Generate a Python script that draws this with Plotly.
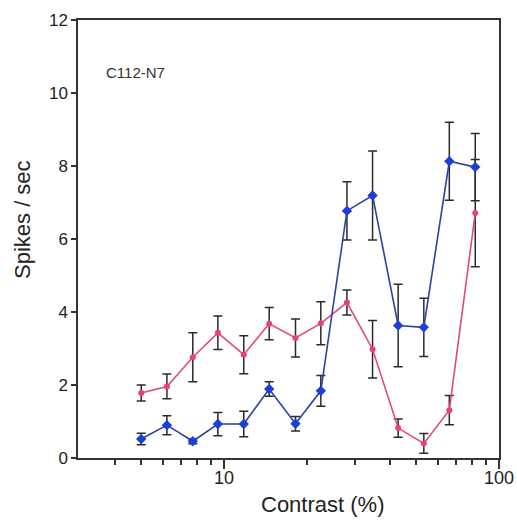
import plotly.graph_objects as go

contrast = [5.0, 6.2, 7.7, 9.5, 11.8, 14.6, 18.2, 22.5, 28.0, 34.7, 43.0, 53.3, 66.0, 82.0]

pink_rate = [1.78, 1.96, 2.76, 3.43, 2.83, 3.68, 3.29, 3.69, 4.26, 2.98, 0.82, 0.40, 1.31, 6.71]
pink_err = [0.22, 0.34, 0.67, 0.46, 0.52, 0.44, 0.52, 0.59, 0.34, 0.79, 0.25, 0.27, 0.40, 1.47]

blue_rate = [0.52, 0.90, 0.46, 0.93, 0.93, 1.89, 0.94, 1.84, 6.77, 7.19, 3.63, 3.58, 8.13, 7.97]
blue_err = [0.16, 0.26, 0.07, 0.32, 0.35, 0.20, 0.20, 0.42, 0.80, 1.22, 1.13, 0.80, 1.07, 0.92]

x_major = [10, 100]
x_major_text = ["10", "100"]
x_minor = [4, 5, 6, 7, 8, 9, 20, 30, 40, 50, 60, 70, 80, 90]
y_ticks = [0, 2, 4, 6, 8, 10, 12]

FONT = "Liberation Sans, Arial, Helvetica, sans-serif"
AX = "#333333"
ERR = "#2a2a2a"

fig = go.Figure()
fig.add_trace(go.Scatter(
    x=contrast, y=pink_rate, mode="lines+markers",
    line=dict(color="#e2497a", width=1.6),
    marker=dict(color="#e8407a", size=6, symbol="circle"),
    error_y=dict(type="data", array=pink_err, visible=True, color=ERR, thickness=1.5, width=4.5),
    showlegend=False,
))
fig.add_trace(go.Scatter(
    x=contrast, y=blue_rate, mode="lines+markers",
    line=dict(color="#2c41a8", width=1.6),
    marker=dict(color="#1c3fd8", size=8, symbol="diamond"),
    error_y=dict(type="data", array=blue_err, visible=True, color=ERR, thickness=1.5, width=4.5),
    showlegend=False,
))

fig.update_xaxes(
    type="log", range=[0.469, 2.0002], automargin=False,
    tickvals=x_major, ticktext=x_major_text,
    ticks="outside", ticklen=9, tickwidth=1.5, tickcolor=AX,
    ticklabelstandoff=-6,
    minor=dict(tickvals=x_minor, ticks="outside", ticklen=5, tickwidth=1.5, tickcolor=AX),
    showline=True, linecolor=AX, linewidth=1.5, mirror=True,
    showgrid=False, zeroline=False,
    tickfont=dict(family=FONT, size=18, color="#222"),
)
fig.update_yaxes(
    range=[0, 12], tickvals=y_ticks, automargin=False,
    ticks="outside", ticklen=5, tickwidth=1.5, tickcolor=AX,
    showline=True, linecolor=AX, linewidth=1.5, mirror=True,
    showgrid=False, zeroline=False,
    tickfont=dict(family=FONT, size=17, color="#222"),
)

fig.add_annotation(text="C112-N7", xref="paper", yref="paper", x=0.062, y=0.879,
                   xanchor="left", yanchor="middle", showarrow=False,
                   font=dict(family=FONT, size=15, color="#333"))
fig.add_annotation(text="Spikes / sec", xref="paper", yref="paper",
                   x=(22 - 78) / 421, y=(458 - 220) / 438, xanchor="center", yanchor="middle",
                   textangle=-90, showarrow=False,
                   font=dict(family=FONT, size=22, color="#222"))
fig.add_annotation(text="Contrast (%)", xref="paper", yref="paper",
                   x=(322 - 78) / 421, y=(458 - 504) / 438, xanchor="center", yanchor="middle",
                   showarrow=False,
                   font=dict(family=FONT, size=22, color="#222"))

fig.update_layout(
    width=517, height=522,
    margin=dict(l=78, r=18, t=20, b=64),
    paper_bgcolor="white", plot_bgcolor="white",
)

fig.write_html(
    "out.html",
    config={"displayModeBar": False},
    post_script="document.body.style.margin='0';document.body.style.overflow='hidden';",
)
